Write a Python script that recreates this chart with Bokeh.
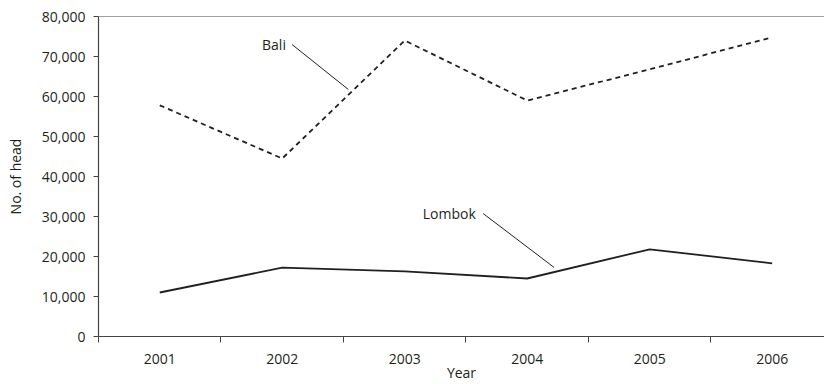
from bokeh.plotting import figure
from bokeh.models import Range1d, FixedTicker, NumeralTickFormatter, Span, ColumnDataSource
from bokeh.core.properties import value
from bokeh.embed import file_html
from bokeh.resources import INLINE

years = [2001, 2002, 2003, 2004, 2005, 2006]
year_labels = ["2001", "2002", "2003", "2004", "2005", "2006"]
bali = [57800, 44500, 74000, 59000, 66800, 74800]
lombok = [11000, 17200, 16300, 14500, 21800, 18300]
y_ticks = [0, 10000, 20000, 30000, 40000, 50000, 60000, 70000, 80000]
cat_bounds = [2000.5, 2001.5, 2002.5, 2003.5, 2004.5, 2005.5]

# annotation labels and leader lines (data coordinates)
ann_text = ["Bali", "Lombok"]
ann_text_x = [2002.03, 2003.58]
ann_text_y = [73000, 30750]
lead_x0 = [2002.08, 2003.64]
lead_y0 = [73000, 30750]
lead_x1 = [2002.54, 2004.22]
lead_y1 = [61750, 17250]

FONT = "Open Sans"
TXT = "#231f20"
FS = "14px"

p = figure(width=824, height=384, output_backend="svg", toolbar_location=None,
           x_range=Range1d(2000.5, 2006.427), y_range=Range1d(0, 80000),
           min_border_left=98, min_border_right=0, min_border_top=16, min_border_bottom=0)
p.outline_line_color = None
p.xgrid.visible = False
p.ygrid.visible = False
p.background_fill_color = "white"
p.border_fill_color = "white"

p.line(years, bali, line_color="#231f20", line_width=1.8, line_dash="5 4")
p.line(years, lombok, line_color="#231f20", line_width=1.8)

src = ColumnDataSource(dict(x0=lead_x0, y0=lead_y0, x1=lead_x1, y1=lead_y1))
p.segment(x0="x0", y0="y0", x1="x1", y1="y1", source=src, line_color="#231f20", line_width=1)
tsrc = ColumnDataSource(dict(x=ann_text_x, y=ann_text_y, t=ann_text))
p.text(x="x", y="y", text="t", source=tsrc, text_font=value(FONT), text_font_size=FS,
       text_color=TXT, text_align="right", text_baseline="middle")

p.add_layout(Span(location=80000, dimension="width", line_color="#444444", line_width=1.2))

xa = p.xaxis[0]
xa.ticker = FixedTicker(ticks=years, minor_ticks=cat_bounds)
xa.major_label_overrides = {y: l for y, l in zip(years, year_labels)}
xa.major_tick_out = 0
xa.major_tick_in = 0
xa.minor_tick_out = 6
xa.minor_tick_in = 0
xa.minor_tick_line_color = "#444444"
xa.axis_line_color = "#444444"
xa.axis_line_width = 1.2
xa.major_label_standoff = 11
xa.major_label_text_font = FONT
xa.major_label_text_font_size = FS
xa.major_label_text_color = TXT
xa.axis_label = "Year"
xa.axis_label_text_font = FONT
xa.axis_label_text_font_size = FS
xa.axis_label_text_font_style = "normal"
xa.axis_label_text_color = TXT
xa.axis_label_text_baseline = "middle"
xa.axis_label_standoff = -4

ya = p.yaxis[0]
ya.ticker = FixedTicker(ticks=y_ticks)
ya.formatter = NumeralTickFormatter(format="0,0")
ya.major_tick_out = 5
ya.major_tick_in = 0
ya.minor_tick_out = 0
ya.minor_tick_in = 0
ya.major_tick_line_color = "#444444"
ya.axis_line_color = "#444444"
ya.axis_line_width = 1.2
ya.major_label_standoff = 8
ya.major_label_text_font = FONT
ya.major_label_text_font_size = FS
ya.major_label_text_color = TXT
ya.axis_label = "No. of head"
ya.axis_label_text_font = FONT
ya.axis_label_text_font_size = FS
ya.axis_label_text_font_style = "normal"
ya.axis_label_text_color = TXT
ya.axis_label_standoff = 14

open("out.html", "w").write(file_html(p, INLINE))
